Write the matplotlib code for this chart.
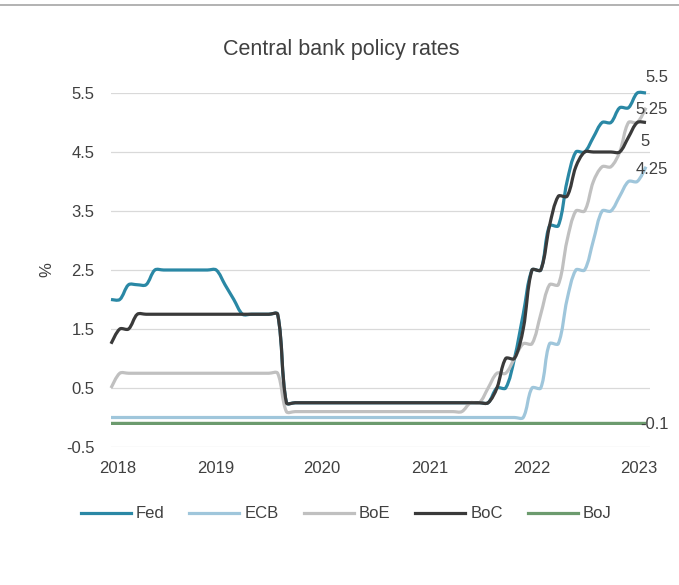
import numpy as np
import pandas as pd
import matplotlib
matplotlib.use("Agg")
import matplotlib.pyplot as plt
from matplotlib.path import Path
from matplotlib.patches import PathPatch
from matplotlib.lines import Line2D

plt.rcParams['font.family'] = ['Liberation Sans', 'DejaVu Sans']

# ---------------- data (monthly, Jul 2018 .. Aug 2023) ----------------
months = pd.period_range("2018-07", "2023-08", freq="M")

fed = [2.0, 2.0, 2.25, 2.25, 2.25, 2.5, 2.5, 2.5, 2.5, 2.5, 2.5, 2.5,
       2.5, 2.25, 2.0, 1.75, 1.75, 1.75, 1.75, 1.75, 0.25, 0.25, 0.25, 0.25,
       0.25, 0.25, 0.25, 0.25, 0.25, 0.25, 0.25, 0.25, 0.25, 0.25, 0.25, 0.25,
       0.25, 0.25, 0.25, 0.25, 0.25, 0.25, 0.25, 0.25, 0.5, 0.5, 1.0, 1.75,
       2.5, 2.5, 3.25, 3.25, 4.0, 4.5, 4.5, 4.75, 5.0, 5.0, 5.25, 5.25,
       5.5, 5.5]

ecb = [0.0, 0.0, 0.0, 0.0, 0.0, 0.0, 0.0, 0.0, 0.0, 0.0, 0.0, 0.0,
       0.0, 0.0, 0.0, 0.0, 0.0, 0.0, 0.0, 0.0, 0.0, 0.0, 0.0, 0.0,
       0.0, 0.0, 0.0, 0.0, 0.0, 0.0, 0.0, 0.0, 0.0, 0.0, 0.0, 0.0,
       0.0, 0.0, 0.0, 0.0, 0.0, 0.0, 0.0, 0.0, 0.0, 0.0, 0.0, 0.0,
       0.5, 0.5, 1.25, 1.25, 2.0, 2.5, 2.5, 3.0, 3.5, 3.5, 3.75, 4.0,
       4.0, 4.25]

boe = [0.5, 0.75, 0.75, 0.75, 0.75, 0.75, 0.75, 0.75, 0.75, 0.75, 0.75, 0.75,
       0.75, 0.75, 0.75, 0.75, 0.75, 0.75, 0.75, 0.75, 0.1, 0.1, 0.1, 0.1,
       0.1, 0.1, 0.1, 0.1, 0.1, 0.1, 0.1, 0.1, 0.1, 0.1, 0.1, 0.1,
       0.1, 0.1, 0.1, 0.1, 0.1, 0.25, 0.25, 0.5, 0.75, 0.75, 1.0, 1.25,
       1.25, 1.75, 2.25, 2.25, 3.0, 3.5, 3.5, 4.0, 4.25, 4.25, 4.5, 5.0,
       5.0, 5.25]

boc = [1.25, 1.5, 1.5, 1.75, 1.75, 1.75, 1.75, 1.75, 1.75, 1.75, 1.75, 1.75,
       1.75, 1.75, 1.75, 1.75, 1.75, 1.75, 1.75, 1.75, 0.25, 0.25, 0.25, 0.25,
       0.25, 0.25, 0.25, 0.25, 0.25, 0.25, 0.25, 0.25, 0.25, 0.25, 0.25, 0.25,
       0.25, 0.25, 0.25, 0.25, 0.25, 0.25, 0.25, 0.25, 0.5, 1.0, 1.0, 1.5,
       2.5, 2.5, 3.25, 3.75, 3.75, 4.25, 4.5, 4.5, 4.5, 4.5, 4.5, 4.75,
       5.0, 5.0]

boj = [-0.1, -0.1, -0.1, -0.1, -0.1, -0.1, -0.1, -0.1, -0.1, -0.1, -0.1, -0.1,
       -0.1, -0.1, -0.1, -0.1, -0.1, -0.1, -0.1, -0.1, -0.1, -0.1, -0.1, -0.1,
       -0.1, -0.1, -0.1, -0.1, -0.1, -0.1, -0.1, -0.1, -0.1, -0.1, -0.1, -0.1,
       -0.1, -0.1, -0.1, -0.1, -0.1, -0.1, -0.1, -0.1, -0.1, -0.1, -0.1, -0.1,
       -0.1, -0.1, -0.1, -0.1, -0.1, -0.1, -0.1, -0.1, -0.1, -0.1, -0.1, -0.1,
       -0.1, -0.1]

series_names = ["Fed", "ECB", "BoE", "BoC", "BoJ"]
end_labels = ["5.5", "4.25", "5.25", "5", "-0.1"]
year_labels = ["2018", "2019", "2020", "2021", "2022", "2023"]
y_ticks = [-0.5, 0.5, 1.5, 2.5, 3.5, 4.5, 5.5]

# ---------------- style ----------------
colors = ["#2a88a5", "#9fc6db", "#c0c0c0", "#3a3a3a", "#6c9b6e"]
label_offsets = [(8, 11), (4.5, -1.8), (4.3, -1.4), (-0.7, -13.5), (5.8, -0.7)]
year_tick_pos = [0.8, 12, 24, 36.3, 48, 60.2]
text_color = "#404040"
lw = 2.3


def smooth_path(ax, x, y):
    """Excel-like smoothed line: cubic Bezier with chord-length scaled tangents
    computed in display space, returned in data coordinates."""
    pts = ax.transData.transform(np.column_stack([x, y]).astype(float))
    n = len(pts)
    d = np.hypot(*np.diff(pts, axis=0).T)
    verts = [pts[0]]
    codes = [Path.MOVETO]
    for i in range(n - 1):
        a = i - 1 if i > 0 else 0
        b = i + 2 if i + 2 < n else n - 1
        d_prev = d[i - 1] if i > 0 else d[i]
        d_next = d[i + 1] if i + 2 < n else d[i]
        c1 = pts[i] + (pts[i + 1] - pts[a]) * d[i] / (3.0 * (d_prev + d[i]) + 1e-9)
        c2 = pts[i + 1] - (pts[b] - pts[i]) * d[i] / (3.0 * (d[i] + d_next) + 1e-9)
        verts += [c1, c2, pts[i + 1]]
        codes += [Path.CURVE4] * 3
    verts = ax.transData.inverted().transform(np.array(verts))
    return Path(verts, codes)


fig = plt.figure(figsize=(6.79, 5.85), dpi=100)
ax = fig.add_axes([111 / 679, 1 - 447 / 585, (650 - 111) / 679, (447 - 93) / 585])

x = np.arange(len(months))
ax.set_xlim(0, len(x) - 1 + 4 / 8.77)
ax.set_ylim(-0.5, 5.5)

all_series = [fed, ecb, boe, boc, boj]
handles = []
for name, vals, col, lab, off in zip(series_names, all_series, colors, end_labels, label_offsets):
    patch = PathPatch(smooth_path(ax, x, vals), fill=False, edgecolor=col, lw=lw,
                      capstyle="butt", joinstyle="round", clip_on=False, zorder=3)
    ax.add_patch(patch)
    handles.append(Line2D([0], [0], color=col, lw=lw))
    ax.annotate(lab, xy=(x[-1], vals[-1]), xytext=off, textcoords="offset points",
                ha="center", va="center", fontsize=12, color=text_color, zorder=5)

ax.set_yticks(y_ticks)
ax.set_yticklabels([f"{v:g}" for v in y_ticks])
ax.set_xticks(year_tick_pos)
ax.set_xticklabels(year_labels)
ax.tick_params(axis="both", length=0, labelsize=12, labelcolor=text_color)
ax.tick_params(axis="y", pad=12)
ax.tick_params(axis="x", pad=10)
ax.grid(axis="y", color="#d9d9d9", lw=0.9)
ax.set_axisbelow(True)
for s in ax.spines.values():
    s.set_visible(False)

fig.text(341 / 679, 1 - 50 / 585, "Central bank policy rates", ha="center", va="center",
         fontsize=15.5, color=text_color)
fig.text(47 / 679, 1 - 270 / 585, "%", ha="center", va="center", rotation=90,
         fontsize=12, color=text_color)

fig.legend(handles, series_names, loc="center", bbox_to_anchor=(346 / 679, 1 - 514 / 585),
           ncol=5, frameon=False, fontsize=12, handlelength=3.0, handletextpad=0.3,
           columnspacing=1.5, labelcolor=text_color)

fig.add_artist(Line2D([0, 1], [1 - 4.5 / 585, 1 - 4.5 / 585], transform=fig.transFigure,
                      color="#a6a6a6", lw=1.2))

fig.savefig("out.png", dpi=100, facecolor="white")
